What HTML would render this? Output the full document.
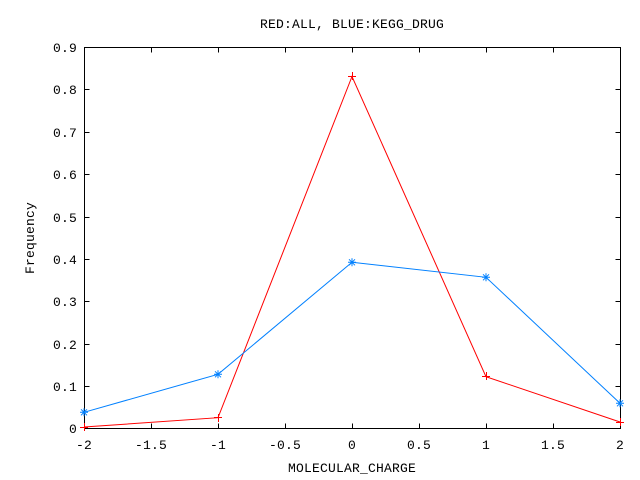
<!DOCTYPE html>
<html><head><meta charset="utf-8"><style>
html,body{margin:0;padding:0;background:#fff;}
svg{display:block;}
text{font-family:"Liberation Mono","DejaVu Sans Mono",monospace;font-size:13px;fill:#000;letter-spacing:0.2px;}
</style></head><body>
<svg width="640" height="480" viewBox="0 0 640 480" xmlns="http://www.w3.org/2000/svg">
<rect width="640" height="480" fill="#fff"/>
<g stroke="#000" stroke-width="1" shape-rendering="crispEdges" fill="none">
<rect x="84.5" y="47.5" width="536" height="381"/>
<!-- y ticks -->
<path d="M84.5 428.5h5M620.5 428.5h-5
M84.5 386.5h5M620.5 386.5h-5
M84.5 344.5h5M620.5 344.5h-5
M84.5 301.5h5M620.5 301.5h-5
M84.5 259.5h5M620.5 259.5h-5
M84.5 217.5h5M620.5 217.5h-5
M84.5 174.5h5M620.5 174.5h-5
M84.5 132.5h5M620.5 132.5h-5
M84.5 89.5h5M620.5 89.5h-5
M84.5 47.5h5M620.5 47.5h-5"/>
<!-- x ticks -->
<path d="M84.5 428.5v-5M84.5 47.5v5
M151.5 428.5v-5M151.5 47.5v5
M218.5 428.5v-5M218.5 47.5v5
M285.5 428.5v-5M285.5 47.5v5
M352.5 428.5v-5M352.5 47.5v5
M419.5 428.5v-5M419.5 47.5v5
M486.5 428.5v-5M486.5 47.5v5
M553.5 428.5v-5M553.5 47.5v5
M620.5 428.5v-5M620.5 47.5v5"/>
</g>
<!-- y labels -->
<g text-anchor="end">
<text x="77" y="433">0</text>
<text x="77" y="391">0.1</text>
<text x="77" y="349">0.2</text>
<text x="77" y="306">0.3</text>
<text x="77" y="264">0.4</text>
<text x="77" y="222">0.5</text>
<text x="77" y="179">0.6</text>
<text x="77" y="137">0.7</text>
<text x="77" y="94">0.8</text>
<text x="77" y="52">0.9</text>
</g>
<!-- x labels -->
<g text-anchor="middle">
<text x="84" y="449">-2</text>
<text x="151" y="449">-1.5</text>
<text x="218" y="449">-1</text>
<text x="285" y="449">-0.5</text>
<text x="352" y="449">0</text>
<text x="419" y="449">0.5</text>
<text x="486" y="449">1</text>
<text x="553" y="449">1.5</text>
<text x="620" y="449">2</text>
<text x="352" y="28">RED:ALL, BLUE:KEGG_DRUG</text>
<text x="352" y="472">MOLECULAR_CHARGE</text>
<text transform="translate(34,238) rotate(-90)">Frequency</text>
</g>
<!-- red series -->
<polyline fill="none" stroke="#ff0000" stroke-width="1" points="84,427 218,417.7 352,76.5 486,376.7 620,422"/>
<g stroke="#ff0000" stroke-width="1" shape-rendering="crispEdges">
<path d="M80 427.5h8M84.5 423v8
M214 417.5h8M218.5 414v8
M348 76.5h8M352.5 72v8
M482 376.5h8M486.5 372v8
M616 422.5h8M620.5 418v8"/>
</g>
<!-- blue series -->
<polyline fill="none" stroke="#0080ff" stroke-width="1" points="84,412.3 218,374.3 352,262.3 486,277.3 620,403.3"/>
<g stroke="#0080ff" stroke-width="1">
<path d="M80 412.3h8M84 408.3v8M81 409.3l6 6M87 409.3l-6 6
M214 374.3h8M218 370.3v8M215 371.3l6 6M221 371.3l-6 6
M348 262.3h8M352 258.3v8M349 259.3l6 6M355 259.3l-6 6
M482 277.3h8M486 273.3v8M483 274.3l6 6M489 274.3l-6 6
M616 403.3h8M620 399.3v8M617 400.3l6 6M623 400.3l-6 6"/>
</g>
</svg>
</body></html>
